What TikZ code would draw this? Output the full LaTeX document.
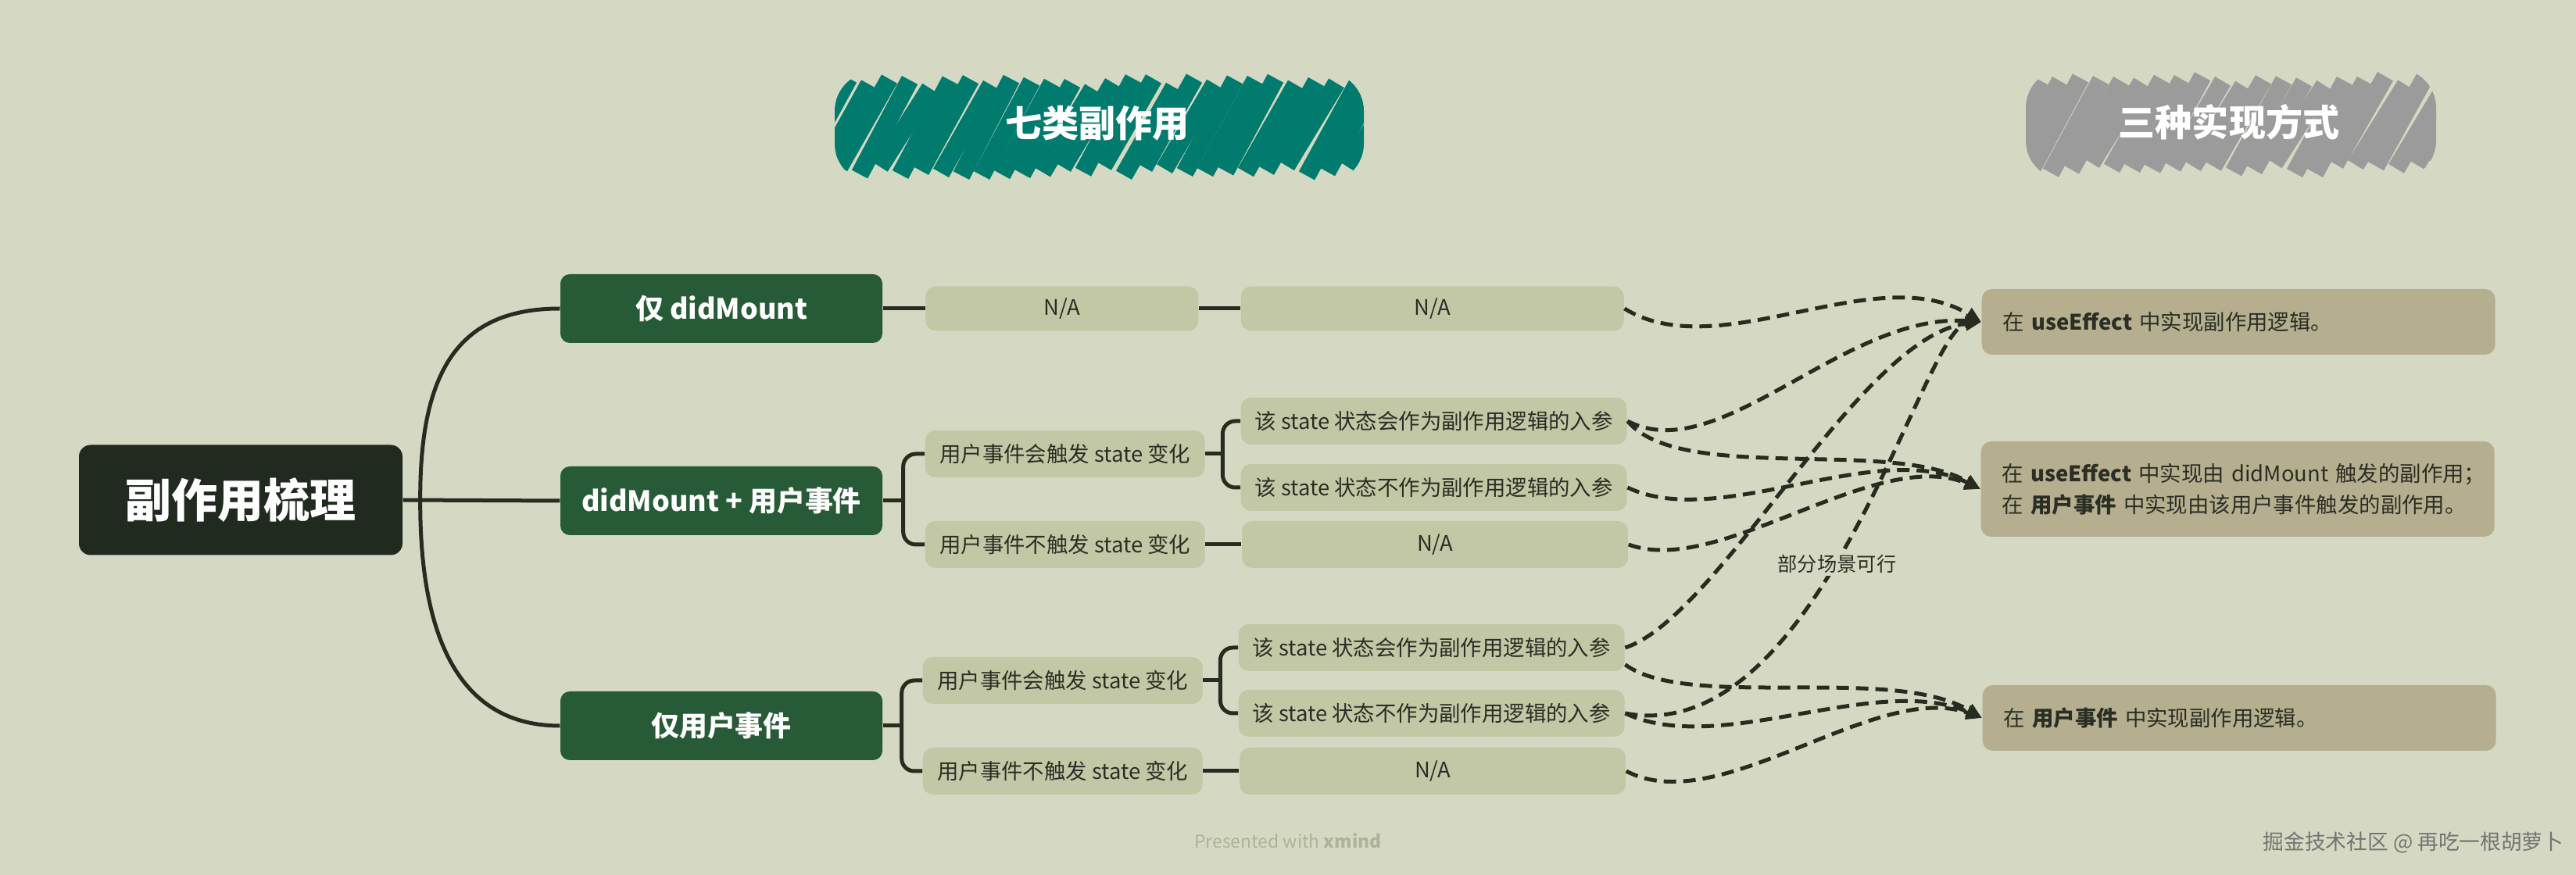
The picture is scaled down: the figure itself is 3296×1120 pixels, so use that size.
\documentclass[tikz,border=0pt]{standalone}
\usepackage{fontspec}
\setmainfont{Noto Sans CJK SC}
\usepackage{tikz}
\usetikzlibrary{arrows.meta,positioning}
\definecolor{canvasbg}{HTML}{D5D9C3}
\definecolor{rootdark}{HTML}{202A1F}
\definecolor{branchgreen}{HTML}{275A36}
\definecolor{leafolive}{HTML}{C2C8A6}
\definecolor{impltan}{HTML}{B5AE8F}
\definecolor{linedark}{HTML}{262D20}
\definecolor{textdark}{HTML}{2A2E24}
\definecolor{scribbleteal}{HTML}{007B6E}
\definecolor{scribblegray}{HTML}{9B9B9B}
\definecolor{footergray}{HTML}{ADB39A}
\tikzset{
  rootTopic/.style={
    rectangle,
    rounded corners=1.5mm,
    fill=rootdark,
    minimum width=41.4mm,
    minimum height=14.1mm,
    inner sep=0pt,
    text=white,
    font=\fontsize{16.8}{20}\selectfont\bfseries
  },
  mainTopic/.style={
    rectangle,
    rounded corners=1.2mm,
    fill=branchgreen,
    minimum width=41.2mm,
    minimum height=8.8mm,
    inner sep=0pt,
    text=white,
    font=\fontsize{10.2}{12}\selectfont\bfseries
  },
  leaf/.style={
    rectangle,
    rounded corners=1.3mm,
    fill=leafolive,
    minimum height=6mm,
    inner sep=0pt,
    text=textdark,
    font=\fontsize{7.8}{9.5}\selectfont
  },
  caseBox/.style={leaf,minimum width=35.8mm},
  stateBox/.style={leaf,minimum width=49.4mm},
  implBox/.style={
    rectangle,
    rounded corners=1.3mm,
    fill=impltan,
    minimum height=8.4mm,
    text width=60.3mm,
    inner xsep=2.7mm,
    inner ysep=0pt,
    align=left,
    text=textdark,
    font=\fontsize{7.8}{11.3}\selectfont
  },
  header/.style={text=white,font=\fontsize{13.4}{16}\selectfont\bfseries},
  scribble/.style={line width=2.3mm,line cap=butt},
  branch/.style={draw=linedark,line width=0.5mm},
  bracket/.style={branch,rounded corners=1.6mm},
  relation/.style={draw=linedark,line width=0.5mm,dash pattern=on 1.6mm off 0.9mm,
    -{Triangle[length=2mm,width=1.7mm]}},
  relLabel/.style={fill=canvasbg,inner sep=1pt,text=textdark,font=\fontsize{7.2}{9}\selectfont}
}

\begin{document}
\begin{tikzpicture}[x=0.1mm,y=-0.1mm]
  \fill[canvasbg] (0,0) rectangle (3296,1120);
  \useasboundingbox (0,0) rectangle (3296,1120);

  % header scribbles
  \pgfmathsetseed{17}
  \begin{scope}
    \clip[rounded corners=5mm] (1068,92) rectangle (1745,234);
    \foreach \sx in {996,1022,...,1750}{
      \pgfmathsetmacro{\jl}{rand*7}
      \pgfmathsetmacro{\jh}{rand*7}
      \draw[scribble,draw=scribbleteal] (\sx,219+\jl) -- (\sx+64,107+\jh);
    }
  \end{scope}
  \begin{scope}
    \clip[rounded corners=5mm] (2592,88) rectangle (3117,230);
    \foreach \sx in {2520,2546,...,3122}{
      \pgfmathsetmacro{\jl}{rand*7}
      \pgfmathsetmacro{\jh}{rand*7}
      \draw[scribble,draw=scribblegray] (\sx,215+\jl) -- (\sx+64,103+\jh);
    }
  \end{scope}
  \node[header] (kindsTitle) at (1404,158) {七类副作用};
  \node[header] (waysTitle) at (2852,156) {三种实现方式};

  % topics
  \node[rootTopic] (root) at (308,640) {副作用梳理};

  \node[mainTopic] (onlyMount) at (923,395) {仅 didMount};
  \node[mainTopic] (mountEvent) at (923,641) {didMount + 用户事件};
  \node[mainTopic] (onlyEvent) at (923,929) {仅用户事件};

  \node[leaf, minimum width=34.9mm, minimum height=5.7mm, right=5.4mm of onlyMount] (naA) {N/A};
  \node[leaf, minimum width=49mm, minimum height=5.7mm, right=5.3mm of naA] (naB) {N/A};

  \node[caseBox, anchor=west] (trigB) at (1183,581) {用户事件会触发 state 变化};
  \node[caseBox, anchor=west] (quietB) at (1183,697) {用户事件不触发 state 变化};
  \node[stateBox, anchor=west] (argB) at (1587,539) {该 state 状态会作为副作用逻辑的入参};
  \node[stateBox, anchor=west] (noArgB) at (1587,624) {该 state 状态不作为副作用逻辑的入参};
  \node[stateBox, right=4.6mm of quietB] (naQuietB) {N/A};

  \node[caseBox, anchor=west] (trigC) at (1180,871) {用户事件会触发 state 变化};
  \node[caseBox, anchor=west] (quietC) at (1180,987) {用户事件不触发 state 变化};
  \node[stateBox, anchor=west] (argC) at (1584,829) {该 state 状态会作为副作用逻辑的入参};
  \node[stateBox, anchor=west] (noArgC) at (1584,913) {该 state 状态不作为副作用逻辑的入参};
  \node[stateBox, right=4.6mm of quietC] (naQuietC) {N/A};

  \node[implBox, anchor=west] (effectWay) at (2535,412) {在 \textbf{useEffect} 中实现副作用逻辑。};
  \node[implBox, anchor=west, minimum height=12.2mm] (splitWay) at (2534,626) {
    \mbox{在 \textbf{useEffect} 中实现由 didMount 触发的副作用；}\\
    \mbox{在 \textbf{用户事件} 中实现由该用户事件触发的副作用。}
  };
  \node[implBox, anchor=west] (eventWay) at (2536,919) {在 \textbf{用户事件} 中实现副作用逻辑。};

  % tree lines
  \path (root.east) ++(22,0) coordinate (rootHub);
  \draw[branch] (root.east) -- (mountEvent.west);
  \draw[branch] (rootHub) .. controls (537,470) and (590,395) .. (onlyMount.west);
  \draw[branch] (rootHub) .. controls (537,820) and (590,929) .. (onlyEvent.west);

  \draw[branch] (onlyMount.east) -- (naA);
  \draw[branch] (naA) -- (naB);

  \path (mountEvent.east) ++(26,0) coordinate (hubB);
  \draw[branch] (mountEvent.east) -- (hubB);
  \draw[bracket] (hubB) |- (trigB.west);
  \draw[bracket] (hubB) |- (quietB.west);
  \path (trigB.east) ++(22,0) coordinate (hubTrigB);
  \draw[branch] (trigB.east) -- (hubTrigB);
  \draw[bracket] (hubTrigB) |- (argB.west);
  \draw[bracket] (hubTrigB) |- (noArgB.west);
  \draw[branch] (quietB) -- (naQuietB);

  \path (onlyEvent.east) ++(24,0) coordinate (hubC);
  \draw[branch] (onlyEvent.east) -- (hubC);
  \draw[bracket] (hubC) |- (trigC.west);
  \draw[bracket] (hubC) |- (quietC.west);
  \path (trigC.east) ++(22,0) coordinate (hubTrigC);
  \draw[branch] (trigC.east) -- (hubTrigC);
  \draw[bracket] (hubTrigC) |- (argC.west);
  \draw[bracket] (hubTrigC) |- (noArgC.west);
  \draw[branch] (quietC) -- (naQuietC);

  % relationships
  \draw[relation] (naB.east) .. controls (2200,470) and (2400,330) .. (effectWay.west);
  \draw[relation] (argB.east) .. controls (2200,600) and (2360,400) .. (effectWay.west);
  \draw[relation] (argB.east) .. controls (2150,620) and (2420,560) .. (splitWay.west);
  \draw[relation] (noArgB.east) .. controls (2200,680) and (2400,560) .. (splitWay.west);
  \draw[relation] (naQuietB.east) .. controls (2200,740) and (2400,570) .. (splitWay.west);
  \draw[relation] (argC.east) .. controls (2200,790) and (2380,430) .. (effectWay.west);
  \draw[relation] (noArgC.east) .. controls (2330,960) and (2460,420) .. (effectWay.west)
    node[relLabel,pos=0.45] (partly) {部分场景可行};
  \draw[relation] (argC.-5) .. controls (2160,910) and (2420,850) .. (eventWay.west);
  \draw[relation] (noArgC.east) .. controls (2200,970) and (2400,860) .. (eventWay.west);
  \draw[relation] (naQuietC.east) .. controls (2200,1050) and (2400,870) .. (eventWay.west);

  % footer
  \node[text=footergray,font=\fontsize{6.5}{8}\selectfont] (presented) at (1648,1076) {Presented with \textbf{xmind}};
  \node[text=black!55,font=\fontsize{7.6}{9}\selectfont] (mark) at (3088,1078) {掘金技术社区 @ 再吃一根胡萝卜};
\end{tikzpicture}
\end{document}
